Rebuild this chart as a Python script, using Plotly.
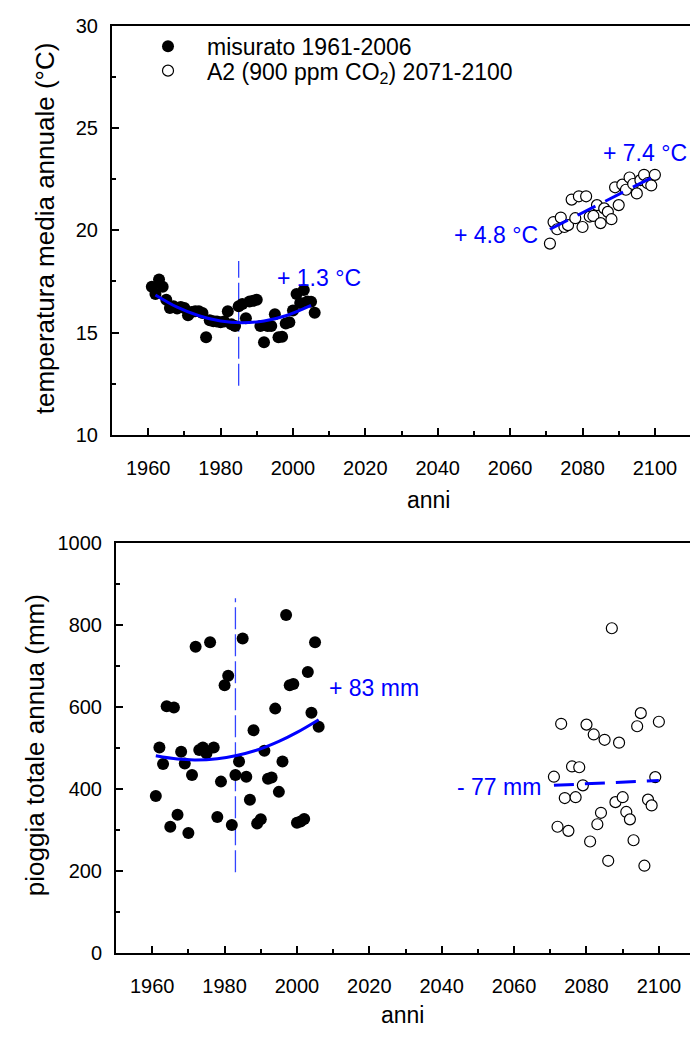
import plotly.graph_objects as go

# ---------------- data ----------------
years_meas = list(range(1961, 2007))
temp_meas = [17.24, 16.88, 17.59, 17.24, 16.60, 16.20, 16.28, 16.17, 16.25, 16.20,
             15.85, 16.00, 16.04, 16.04, 15.95, 14.77, 15.60, 15.55, 15.54, 15.50,
             15.54, 16.04, 15.40, 15.32, 16.28, 16.40, 15.70, 16.52, 16.55, 16.60,
             15.32, 14.53, 15.32, 15.32, 15.89, 14.77, 14.80, 15.44, 15.50, 16.08,
             16.88, 16.44, 17.08, 16.52, 16.50, 15.97]
rain_meas = [382, 500, 460, 601, 307, 598, 336, 490, 461, 292,
             433, 746, 494, 500, 486, 757, 500, 331, 417, 652,
             675, 311, 433, 466, 766, 429, 373, 542, 315, 325,
             492, 424, 427, 595, 392, 466, 823, 652, 655, 317,
             320, 326, 684, 585, 757, 551]

years_proj = list(range(2071, 2101))
temp_proj = [19.35, 20.40, 20.05, 20.62, 20.16, 20.25, 21.50, 20.59, 21.66, 20.16,
             21.66, 20.67, 20.70, 21.23, 20.35, 21.07, 20.90, 20.54, 22.10, 21.23,
             22.23, 21.98, 22.58, 22.26, 21.80, 22.45, 22.71, 22.30, 22.19, 22.71]
rain_proj = [429, 307, 558, 377, 297, 454, 379, 452, 408, 556,
             271, 532, 313, 341, 519, 224, 791, 367, 512, 379,
             343, 325, 274, 552, 584, 212, 373, 359, 428, 563]

# trend curves
temp_trend_x = [1962, 1968, 1974, 1980, 1986, 1992, 1998, 2005]
temp_trend_y = [16.84, 16.24, 15.82, 15.56, 15.48, 15.56, 15.82, 16.33]
temp_proj_trend_x = [2071, 2100]
temp_proj_trend_y = [20.05, 22.65]
rain_trend_x = [1961, 1967, 1972, 1978, 1983, 1989, 1995, 2000, 2006]
rain_trend_y = [480, 472, 470, 473, 480, 494, 515, 537, 568]
rain_proj_trend_x = [2071, 2100]
rain_proj_trend_y = [408, 420]

# vertical reference lines
temp_vline_x = [1985, 1985]
temp_vline_y = [12.4, 18.5]
rain_vline_x = [1983, 1983]
rain_vline_y = [196, 864]

# labels
lab_temp_meas = "+ 1.3 °C"
lab_temp_a = "+ 4.8 °C"
lab_temp_b = "+ 7.4 °C"
lab_rain_meas = "+ 83 mm"
lab_rain_proj = "- 77 mm"
name_meas = "misurato 1961-2006"
name_proj = "A2 (900 ppm CO<sub>2</sub>) 2071-2100"

FONT = "Liberation Sans, Arial, sans-serif"
BLUE = "#0000FF"
W, H = 690, 1040

fig = go.Figure()

# ---- top panel ----
fig.add_trace(go.Scatter(x=temp_vline_x, y=temp_vline_y, mode="lines",
                         line=dict(color="#3344FF", width=1.3, dash="22px,5px"),
                         showlegend=False, hoverinfo="skip", xaxis="x", yaxis="y"))
fig.add_trace(go.Scatter(x=years_meas, y=temp_meas, mode="markers", name=name_meas,
                         marker=dict(color="black", size=12, line=dict(width=0)),
                         legend="legend", xaxis="x", yaxis="y"))
fig.add_trace(go.Scatter(x=years_proj, y=temp_proj, mode="markers", name=name_proj,
                         marker=dict(color="white", size=11, line=dict(color="black", width=1.2)),
                         legend="legend2", xaxis="x", yaxis="y"))
fig.add_trace(go.Scatter(x=temp_trend_x, y=temp_trend_y, mode="lines", line_shape="spline",
                         line=dict(color=BLUE, width=3), showlegend=False, xaxis="x", yaxis="y"))
fig.add_trace(go.Scatter(x=temp_proj_trend_x, y=temp_proj_trend_y, mode="lines",
                         line=dict(color=BLUE, width=3, dash="20px,11px"),
                         showlegend=False, xaxis="x", yaxis="y"))

# ---- bottom panel ----
fig.add_trace(go.Scatter(x=rain_vline_x, y=rain_vline_y, mode="lines",
                         line=dict(color="#3344FF", width=1.3, dash="22px,5px"),
                         showlegend=False, hoverinfo="skip", xaxis="x2", yaxis="y2"))
fig.add_trace(go.Scatter(x=years_meas, y=rain_meas, mode="markers",
                         marker=dict(color="black", size=12, line=dict(width=0)),
                         showlegend=False, xaxis="x2", yaxis="y2"))
fig.add_trace(go.Scatter(x=years_proj, y=rain_proj, mode="markers",
                         marker=dict(color="white", size=11, line=dict(color="black", width=1.2)),
                         showlegend=False, xaxis="x2", yaxis="y2"))
fig.add_trace(go.Scatter(x=rain_trend_x, y=rain_trend_y, mode="lines", line_shape="spline",
                         line=dict(color=BLUE, width=3), showlegend=False, xaxis="x2", yaxis="y2"))
fig.add_trace(go.Scatter(x=rain_proj_trend_x, y=rain_proj_trend_y, mode="lines",
                         line=dict(color=BLUE, width=3, dash="20px,11px"),
                         showlegend=False, xaxis="x2", yaxis="y2"))

def px_x(p):
    return p / W

def px_y(p):
    return 1 - p / H

axis_common = dict(showline=True, linecolor="black", linewidth=2, ticks="inside",
                   ticklen=7, tickwidth=2, tickcolor="black", showgrid=False, zeroline=False,
                   tickfont=dict(family=FONT, size=20, color="black"))

legend_common = dict(xanchor="left", yanchor="middle", bgcolor="rgba(0,0,0,0)",
                     font=dict(family=FONT, size=23, color="black"), itemwidth=68)

fig.update_layout(
    width=W, height=H, margin=dict(l=0, r=0, t=0, b=0),
    paper_bgcolor="white", plot_bgcolor="white",
    font=dict(family=FONT, color="black"),
    showlegend=True,
    legend=dict(x=px_x(129), y=px_y(36), **legend_common),
    legend2=dict(x=px_x(129), y=px_y(61), **legend_common),
    xaxis=dict(domain=[px_x(112), 1], range=[1950, 2109.7], anchor="y", mirror=True,
               dtick=20, tick0=1960, ticklabelstandoff=14,
               minor=dict(dtick=10, tick0=1950, ticks="inside", ticklen=4, tickwidth=2, tickcolor="black"),
               **axis_common),
    yaxis=dict(domain=[px_y(433), px_y(15)], range=[10, 30], anchor="x",
               dtick=5, ticklabelstandoff=8,
               minor=dict(dtick=2.5, ticks="inside", ticklen=4, tickwidth=2, tickcolor="black"),
               **axis_common),
    xaxis2=dict(domain=[px_x(116), 1], range=[1950, 2108.6], anchor="y2", mirror=True,
                dtick=20, tick0=1960, ticklabelstandoff=14,
                minor=dict(dtick=10, tick0=1950, ticks="inside", ticklen=4, tickwidth=2, tickcolor="black"),
                **axis_common),
    yaxis2=dict(domain=[px_y(962), px_y(543)], range=[0, 1000], anchor="x2",
                dtick=200, ticklabelstandoff=8,
                minor=dict(dtick=100, ticks="inside", ticklen=4, tickwidth=2, tickcolor="black"),
                **axis_common),
)

ann_font = dict(family=FONT, size=23, color=BLUE)
annotations = [
    dict(x=1995, y=17.66, xref="x", yref="y", text=lab_temp_meas, xanchor="left", yanchor="middle",
         showarrow=False, font=ann_font),
    dict(x=2068.2, y=19.76, xref="x", yref="y", text=lab_temp_a, xanchor="right", yanchor="middle",
         showarrow=False, font=ann_font),
    dict(x=2085.0, y=23.78, xref="x", yref="y", text=lab_temp_b, xanchor="left", yanchor="middle",
         showarrow=False, font=ann_font),
    dict(x=2008.4, y=645, xref="x2", yref="y2", text=lab_rain_meas, xanchor="left", yanchor="middle",
         showarrow=False, font=ann_font),
    dict(x=2067.9, y=404, xref="x2", yref="y2", text=lab_rain_proj, xanchor="right", yanchor="middle",
         showarrow=False, font=ann_font),
    # axis titles
    dict(x=px_x(428), y=px_y(500), xref="paper", yref="paper", text="anni", showarrow=False,
         xanchor="center", yanchor="middle", font=dict(family=FONT, size=23, color="black")),
    dict(x=px_x(402), y=px_y(1026), xref="paper", yref="paper", text="anni", showarrow=False,
         xanchor="center", yanchor="middle", font=dict(family=FONT, size=23, color="black")),
    dict(x=px_x(45), y=px_y(222), xref="paper", yref="paper", text="temperatura media annuale (°C)",
         showarrow=False, textangle=-90, xanchor="center", yanchor="middle",
         font=dict(family=FONT, size=26, color="black")),
    dict(x=px_x(35), y=px_y(750), xref="paper", yref="paper", text="pioggia totale annua (mm)",
         showarrow=False, textangle=-90, xanchor="center", yanchor="middle",
         font=dict(family=FONT, size=26, color="black")),
]
fig.update_layout(annotations=annotations)

fig.write_html("out.html")
